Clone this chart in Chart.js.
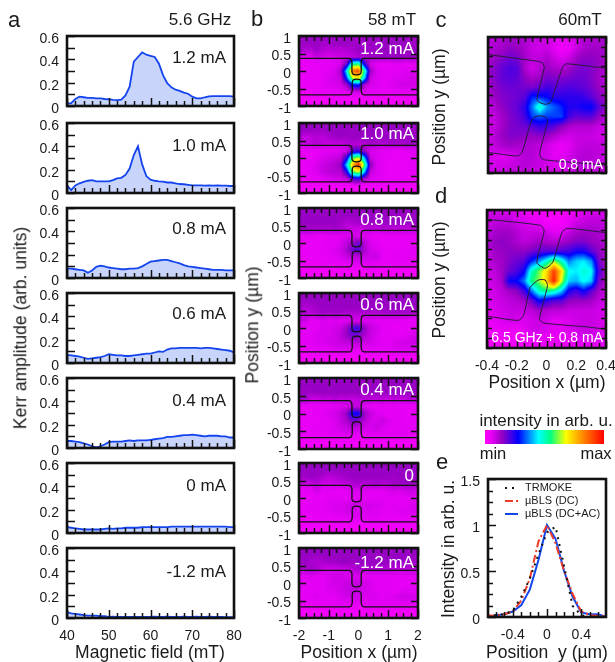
<!DOCTYPE html>
<html>
<head>
<meta charset="utf-8">
<title>Kerr amplitude and intensity maps</title>
<script src="https://cdn.jsdelivr.net/npm/chart.js@4"></script>
<style>
  html, body { margin: 0; padding: 0; background: #fff; overflow: hidden; }
  #fig { position: relative; width: 615px; height: 662px; overflow: hidden; font-family: "Liberation Sans", Arial, sans-serif; color: #1a1a1a; }
  #fig canvas { position: absolute; }
  .t { position: absolute; white-space: pre; line-height: 1; transform: translate(-50%, -50%); }
  .r { position: absolute; white-space: pre; line-height: 1; transform: translate(-100%, -50%); }
  .v { position: absolute; white-space: pre; line-height: 1; transform: translate(-50%, -50%) rotate(-90deg); }
</style>
</head>
<body>
<div id="fig"></div>
<script>
// panel a
const fieldMT = [40,41,42,43,44,45,46,47,48,49,50,51,52,53,54,55,56,57,58,59,60,61,62,63,64,65,66,67,68,69,70,71,72,73,74,75,76,77,78,79,80]
const kerr12 = [.02,.025,.06,.08,.075,.07,.07,.065,.065,.06,.058,.052,.05,.055,.09,.165,.38,.42,.46,.44,.43,.42,.365,.265,.195,.16,.14,.13,.115,.105,.08,.065,.065,.075,.083,.085,.085,.085,.085,.085,.08]
const kerr10 = [.065,.025,.065,.083,.095,.105,.11,.1,.1,.1,.1,.11,.125,.13,.155,.21,.325,.4,.245,.145,.115,.105,.1,.097,.09,.09,.083,.077,.075,.07,.065,.065,.065,.063,.065,.063,.065,.063,.063,.06,.06]
const kerr08 = [.08,.08,.075,.07,.065,.045,.065,.095,.105,.1,.09,.085,.08,.075,.075,.08,.08,.085,.1,.12,.14,.145,.15,.155,.155,.145,.135,.125,.11,.1,.095,.09,.085,.08,.075,.07,.07,.07,.065,.065,.065]
const kerr06 = [.07,.065,.06,.055,.045,.035,.04,.045,.05,.06,.075,.07,.065,.065,.06,.06,.065,.07,.075,.08,.08,.09,.1,.095,.115,.125,.125,.13,.13,.13,.13,.13,.125,.13,.13,.125,.12,.115,.11,.105,.09]
const kerr04 = [.06,.06,.055,.05,.04,.03,.015,.005,.015,.03,.05,.055,.055,.055,.06,.065,.06,.065,.065,.065,.07,.075,.08,.085,.095,.095,.1,.105,.11,.11,.115,.11,.105,.1,.105,.105,.105,.1,.1,.09,.09]
const kerr00 = [.05,.045,.04,.035,.03,.03,.03,.03,.03,.035,.04,.035,.04,.04,.045,.045,.045,.045,.05,.05,.05,.05,.05,.05,.05,.055,.055,.055,.055,.055,.055,.055,.055,.055,.055,.055,.055,.055,.055,.05,.05]
const kerrN12 = [.05,.04,.035,.03,.025,.02,.02,.02,.015,.015,.01,.012,.01,.01,.01,.01,.01,.01,.01,.01,.01,.012,.01,.01,.012,.01,.01,.01,.012,.01,.01,.012,.01,.01,.012,.01,.01,.01,.008,.008,.008]

// panel b maps, rows from y = 1 down to y = -1, columns x = -2 to 2
const mapBx = [-2,-1.8,-1.6,-1.4,-1.2,-1,-.8,-.6,-.4,-.2,0,.2,.4,.6,.8,1,1.2,1.4,1.6,1.8,2]
const mapBy = [1,.8,.6,.4,.2,0,-.2,-.4,-.6,-.8,-1]
const mapB12 = [
  [13,13,13,13,13,13,13,13,13,13,13,13,13,13,13,13,13,13,13,13,13],
  [13,14,14,14,13,13,14,14,14,13,13,13,14,13,14,14,14,14,14,13,13],
  [14,11,11,13,11,10,11,10,11,12,14,14,13,14,14,14,14,14,14,14,13],
  [6,5,6,9,8,7,8,9,9,10,11,12,13,13,14,13,14,14,13,14,12],
  [5,5,5,5,5,6,6,7,18,52,55,24,8,6,5,5,6,6,5,6,6],
  [5,5,5,5,6,6,7,12,44,85,90,52,14,7,6,6,6,6,7,7,7],
  [4,5,5,5,6,7,8,9,32,65,70,42,9,7,6,6,7,7,7,8,7],
  [4,4,5,5,6,7,7,8,12,28,30,11,7,7,6,6,7,8,8,8,7],
  [4,4,4,5,5,5,6,6,7,8,8,7,6,6,5,5,6,6,6,6,6],
  [3,3,3,3,3,3,4,3,3,3,3,3,3,3,4,3,3,3,4,3,3],
  [2,2,2,2,2,2,2,2,2,2,2,2,2,2,2,2,2,2,2,2,2]
]
const mapB10 = [
  [14,14,14,14,14,14,14,14,14,14,14,14,14,14,14,14,14,14,14,14,14],
  [14,14,14,13,13,14,14,14,14,13,14,14,14,14,13,14,14,14,14,13,13],
  [13,9,10,11,10,12,13,14,13,14,14,14,14,13,14,14,14,14,13,14,13],
  [9,9,10,11,10,9,10,9,11,11,10,11,13,12,11,12,13,12,13,13,12],
  [5,5,5,5,6,6,6,7,8,20,22,14,7,7,6,6,5,5,6,6,6],
  [5,5,5,6,7,8,9,10,24,58,65,40,9,7,6,5,5,5,5,6,6],
  [5,5,6,7,9,10,11,14,42,75,95,58,16,7,6,5,5,5,5,6,6],
  [4,5,6,7,9,10,11,11,24,58,65,40,9,7,6,5,5,5,5,5,5],
  [4,4,5,5,6,7,8,8,9,20,22,12,7,6,6,5,5,5,5,5,5],
  [3,3,3,3,3,3,3,3,3,3,4,3,3,3,3,3,3,3,3,3,3],
  [2,2,2,2,2,2,2,2,2,2,2,2,2,2,2,2,2,2,2,2,2]
]
const mapB08 = [
  [14,14,14,14,14,14,14,14,14,14,14,14,14,14,14,14,14,14,14,14,14],
  [14,14,14,14,14,14,14,14,14,14,14,14,14,14,14,14,14,14,14,14,14],
  [14,14,14,14,14,14,14,13,11,12,13,14,14,14,14,14,14,14,14,14,14],
  [12,13,13,12,13,12,13,12,10,9,8,9,10,9,11,10,10,10,9,9,10],
  [5,6,6,5,5,6,6,6,7,8,7,7,6,5,5,6,6,6,6,6,6],
  [5,5,5,5,5,6,6,7,10,14,18,11,7,6,5,5,5,5,5,6,5],
  [4,5,5,5,6,6,7,8,12,18,20,12,8,7,6,5,5,5,6,6,6],
  [4,5,5,5,5,6,6,7,9,10,10,9,8,9,6,5,6,6,6,6,6],
  [4,4,4,4,5,5,5,5,6,6,6,6,6,5,5,5,5,5,5,5,5],
  [3,3,3,3,3,3,3,3,3,3,3,3,3,3,3,3,3,3,3,3,3],
  [2,2,2,2,2,2,2,2,2,2,2,2,2,2,2,2,2,2,2,2,2]
]
const mapB06 = [
  [14,14,14,14,14,14,14,14,14,14,14,14,14,14,14,14,14,14,14,14,14],
  [14,14,14,14,14,14,14,14,14,14,14,14,14,14,14,14,14,14,14,14,14],
  [14,11,12,13,14,14,14,14,14,14,14,14,14,14,14,14,14,14,14,14,14],
  [13,11,10,12,13,12,13,12,12,11,11,11,11,11,12,12,12,12,12,11,10],
  [9,8,6,6,7,6,7,6,7,8,7,7,7,6,6,6,6,6,5,5,5],
  [6,6,6,6,7,7,8,9,13,22,22,14,9,8,6,6,5,5,5,6,6],
  [6,6,6,7,7,7,8,10,14,18,17,12,9,7,6,6,6,5,6,7,8],
  [5,6,6,7,7,8,8,9,10,11,11,9,8,7,6,6,7,8,8,8,9],
  [5,5,5,6,6,6,7,7,7,7,6,6,6,6,6,6,7,7,7,7,8],
  [3,3,3,3,3,3,3,3,3,3,3,3,3,3,3,3,3,3,3,3,3],
  [2,2,2,2,2,2,2,2,2,2,2,2,2,2,2,2,2,2,2,2,2]
]
const mapB04 = [
  [14,14,14,14,14,14,14,14,14,14,14,14,14,14,14,14,14,14,14,14,14],
  [14,14,14,14,14,14,14,14,14,14,14,14,14,14,14,14,14,14,14,14,14],
  [13,14,13,14,14,14,14,14,14,14,14,14,14,14,14,14,14,14,14,14,14],
  [12,13,9,8,10,9,11,9,10,9,10,11,10,10,10,9,10,9,10,11,10],
  [5,5,5,6,5,6,6,7,8,10,9,7,6,5,6,5,6,5,5,5,6],
  [5,5,5,5,6,7,8,10,14,28,26,14,9,7,6,5,6,6,5,5,5],
  [5,5,5,5,6,6,7,9,12,17,16,11,8,7,9,7,6,6,5,6,6],
  [5,5,5,6,6,6,7,8,9,10,9,8,7,9,7,6,6,6,6,6,6],
  [4,5,5,5,5,6,6,6,7,6,6,6,6,6,6,6,6,6,6,6,6],
  [3,3,3,3,3,3,3,3,3,3,3,3,3,3,3,3,3,3,3,3,3],
  [2,2,2,2,2,2,2,2,2,2,2,2,2,2,2,2,2,2,2,2,2]
]
const mapB00 = [
  [14,14,14,14,14,14,14,14,14,14,14,14,14,14,14,14,14,14,14,14,14],
  [14,14,14,14,14,14,14,14,14,14,14,14,14,14,14,14,14,14,14,14,14],
  [14,13,14,13,12,10,11,12,13,14,14,14,14,14,14,14,13,14,14,13,14],
  [9,8,9,11,8,8,9,9,10,11,12,11,11,12,11,11,13,13,14,13,13],
  [5,5,5,8,6,6,5,5,6,7,7,7,6,6,6,7,8,7,8,9,7],
  [5,5,5,5,5,6,6,6,6,6,6,6,6,6,6,6,6,6,6,6,6],
  [5,5,6,6,6,7,7,7,8,9,8,8,8,7,7,6,7,6,6,7,7],
  [5,5,5,6,6,6,7,7,8,8,7,7,7,7,6,6,6,7,7,7,7],
  [4,4,4,5,5,5,5,5,6,6,6,6,6,6,6,5,5,5,5,5,5],
  [3,3,3,3,3,3,3,3,3,3,3,3,3,3,3,3,3,3,3,3,3],
  [2,2,2,2,2,2,2,2,2,2,2,2,2,2,2,2,2,2,2,2,2]
]
const mapBN12 = [
  [14,14,14,14,14,14,14,14,14,14,14,14,14,14,14,14,14,14,14,14,14],
  [14,14,14,14,14,14,14,14,14,14,14,14,14,14,14,14,14,14,14,14,14],
  [13,14,12,11,12,13,13,14,14,13,14,14,14,14,14,14,14,14,13,13,12],
  [12,12,13,12,9,8,8,9,9,11,12,12,12,11,12,11,11,10,11,11,10],
  [6,6,7,6,6,7,8,8,7,7,7,6,6,6,6,6,6,6,6,6,6],
  [6,6,6,6,6,7,8,8,9,9,9,8,7,6,6,6,6,5,5,6,6],
  [6,6,6,6,6,7,7,8,9,10,9,8,7,6,6,6,5,6,7,6,6],
  [5,6,6,7,6,6,6,7,8,8,8,7,7,7,6,7,7,8,8,8,7],
  [5,5,5,5,5,6,6,6,6,6,6,6,6,6,6,6,6,6,6,6,6],
  [3,3,3,3,3,3,3,3,3,3,3,3,3,3,3,3,3,3,3,3,3],
  [2,2,2,2,2,2,2,2,2,2,2,2,2,2,2,2,2,2,2,2,2]
]

// device outline in panel b
const edgeBtopX = [-2,-.32,-.25,-.22,-.22,-.18,-.07,.05,.09,.09,.12,.19,2]
const edgeBtopY = [.36,.36,.33,.25,-.02,-.09,-.11,-.09,-.02,.25,.33,.36,.36]
const edgeBlowX = [-2,-.3,-.24,-.21,-.21,-.17,-.06,.05,.09,.09,.12,.19,2]
const edgeBlowY = [-.68,-.68,-.65,-.55,-.32,-.25,-.23,-.25,-.32,-.55,-.65,-.68,-.68]

// panels c and d, rows from y = 0.7 down to y = -0.7, columns x = -0.4 to 0.4
const mapCx = [-.4,-.35,-.3,-.25,-.2,-.15,-.1,-.05,0,.05,.1,.15,.2,.25,.3,.35,.4]
const mapCy = [.7,.6,.5,.4,.3,.2,.1,0,-.1,-.2,-.3,-.4,-.5,-.6,-.7]
const mapC = [
  [10,11,12,13,13,12,10,9,9,7,5,6,9,11,12,12,12],
  [11,12,13,15,14,12,9,8,9,6,3,5,9,12,13,13,12],
  [12,14,16,18,17,13,10,10,12,9,7,9,13,15,15,14,12],
  [14,16,19,21,20,12,8,11,14,12,11,13,16,17,16,14,11],
  [14,16,19,20,19,15,12,14,17,16,16,17,18,18,16,13,10],
  [13,15,17,18,18,17,17,19,22,20,20,21,20,19,17,14,11],
  [12,14,16,17,18,20,30,30,28,24,24,24,24,23,20,16,13],
  [10,12,15,17,19,24,36,50,38,34,30,25,25,27,28,20,15],
  [9,10,13,16,18,22,32,34,32,32,32,22,19,20,20,15,11],
  [8,10,13,16,17,18,20,23,22,20,15,12,11,11,11,9,8],
  [9,11,14,16,16,15,14,15,14,11,9,8,9,9,9,8,8],
  [9,10,12,13,12,12,11,10,8,6,5,6,9,10,10,10,9],
  [7,7,6,7,9,11,11,9,8,6,6,8,10,11,11,10,9],
  [8,8,8,9,10,11,10,9,8,7,8,9,10,11,10,10,9],
  [8,9,9,10,10,10,10,9,9,8,8,8,9,9,9,9,9]
]
const mapD = [
  [8,9,8,8,7,6,4,4,3,2,2,4,6,7,8,8,8],
  [9,10,10,10,8,7,6,5,3,2,2,5,8,9,10,10,9],
  [10,12,13,13,11,9,9,9,8,6,6,9,12,13,13,12,10],
  [11,14,15,14,12,10,11,13,12,11,12,14,16,16,14,13,11],
  [10,13,14,15,15,15,17,19,20,20,21,22,26,26,20,15,11],
  [9,12,13,16,18,20,30,38,48,62,50,36,42,44,38,18,11],
  [9,10,13,18,21,27,50,60,72,92,72,46,44,48,46,22,12],
  [8,9,12,27,28,36,55,62,74,96,66,42,40,46,42,18,11],
  [8,8,10,13,15,22,36,50,55,52,42,26,22,28,20,13,9],
  [7,8,9,10,11,13,18,28,24,20,20,15,14,14,13,10,8],
  [6,7,8,9,9,9,10,13,11,10,10,9,9,9,9,8,7],
  [5,6,7,8,8,7,8,9,8,6,6,7,8,9,9,8,7],
  [4,4,5,5,4,6,8,8,7,6,6,7,8,9,9,8,7],
  [3,3,3,3,3,3,4,5,5,5,5,5,6,7,7,7,6],
  [3,3,3,3,3,3,3,4,4,4,4,4,5,5,5,5,5]
]
const edgeCtopX = [-.399,-.056,-.029,-.018,-.068,-.056,-.011,.023,.034,.101,.113,.135,.401]
const edgeCtopY = [.539,.468,.45,.41,.085,.051,.027,.044,.085,.392,.427,.444,.399]
const edgeClowX = [-.399,-.203,-.169,-.113,-.09,-.056,-.011,.005,-.05,-.038,-.011,.4]
const edgeClowY = [-.468,-.505,-.468,-.171,-.109,-.092,-.102,-.137,-.478,-.529,-.546,-.6]
const edgeDtopX = [-.388,-.04,-.016,-.065,-.009,.042,.103,.136,.4]
const edgeDtopY = [.624,.564,.507,.188,.128,.188,.49,.534,.49]
const edgeDlowX = [-.388,-.19,-.154,-.109,-.054,-.009,.007,-.047,-.02,.27,.4]
const edgeDlowY = [-.359,-.4,-.349,-.064,.01,.01,-.047,-.383,-.426,-.466,-.49]

// panel e
const posY = [-.7,-.6,-.5,-.4,-.3,-.2,-.1,0,.1,.2,.3,.4,.5,.6,.7]
const trmoke = [0,.02,.03,.07,.22,.42,.68,.92,.98,.55,.12,.02,0,0,0]
const blsDC = [.02,.01,.03,.06,.18,.42,.82,1,.8,.5,.25,.06,.02,.01,.01]
const blsDCAC = [0,.02,.03,.06,.13,.3,.62,1,.85,.5,.22,.05,.03,.03,0]

// colour bar and colour scale
const barLevels = [0,10,20,30,40,50,60,70,80,90,100]
const cmapAt = [0,6,14,28,45,55,68,83,100]
const cmapRGB = [[255,0,255],[228,0,245],[152,0,195],[0,0,255],[0,255,255],[0,255,130],[255,255,0],[255,130,0],[255,0,0]]

const ink = '#111'
const fig = document.getElementById('fig')

function text (cls, str, x, y, size, color) {
  const d = document.createElement('div')
  d.className = cls
  d.textContent = str
  d.style.left = x + 'px'
  d.style.top = y + 'px'
  d.style.fontSize = size + 'px'
  if (color) d.style.color = color
  fig.appendChild(d)
}

function colour (v) {
  let i = 0
  while (i < cmapAt.length - 2 && v > cmapAt[i + 1]) i++
  const f = Math.min(1, Math.max(0, (v - cmapAt[i]) / (cmapAt[i + 1] - cmapAt[i])))
  return cmapRGB[i].map((c, k) => c + (cmapRGB[i + 1][k] - c) * f)
}

// paints a grid of levels into the chart area, sampled through the scales
function heatPlugin (grid, xs, ys) {
  return {
    id: 'heat',
    beforeDatasetsDraw (chart) {
      const { ctx, chartArea: a, scales } = chart
      const w = Math.round(a.right - a.left)
      const h = Math.round(a.bottom - a.top)
      const off = document.createElement('canvas')
      off.width = w
      off.height = h
      const octx = off.getContext('2d')
      const img = octx.createImageData(w, h)
      const nx = xs.length - 1
      const ny = ys.length - 1
      for (let py = 0; py < h; py++) {
        const vy = scales.y.getValueForPixel(a.top + py + 0.5)
        const fy = Math.min(ny, Math.max(0, (vy - ys[0]) / (ys[ny] - ys[0]) * ny))
        const r0 = Math.min(ny - 1, Math.floor(fy))
        const ty = fy - r0
        for (let px = 0; px < w; px++) {
          const vx = scales.x.getValueForPixel(a.left + px + 0.5)
          const fx = Math.min(nx, Math.max(0, (vx - xs[0]) / (xs[nx] - xs[0]) * nx))
          const c0 = Math.min(nx - 1, Math.floor(fx))
          const tx = fx - c0
          const v = (grid[r0][c0] * (1 - tx) + grid[r0][c0 + 1] * tx) * (1 - ty) +
            (grid[r0 + 1][c0] * (1 - tx) + grid[r0 + 1][c0 + 1] * tx) * ty
          const rgb = colour(v)
          const o = (py * w + px) * 4
          img.data[o] = rgb[0]
          img.data[o + 1] = rgb[1]
          img.data[o + 2] = rgb[2]
          img.data[o + 3] = 255
        }
      }
      octx.putImageData(img, 0, 0)
      ctx.drawImage(off, a.left, a.top)
    }
  }
}

// frame and inward tick marks
function framePlugin (cfg) {
  const isMajor = (v, m) => Math.abs(v / m - Math.round(v / m)) < 1e-6
  return {
    id: 'frame',
    afterDatasetsDraw (chart) {
      const { ctx, chartArea: a, scales } = chart
      ctx.save()
      ctx.strokeStyle = ink
      ctx.lineWidth = 1.5
      ctx.beginPath()
      scales.x.ticks.forEach(t => {
        const p = Math.round(scales.x.getPixelForValue(t.value)) + 0.5
        const len = isMajor(t.value, cfg.xMajor) ? cfg.xLong : cfg.xShort
        ctx.moveTo(p, a.bottom)
        ctx.lineTo(p, a.bottom - len)
        if (cfg.both) {
          ctx.moveTo(p, a.top)
          ctx.lineTo(p, a.top + len)
        }
      })
      scales.y.ticks.forEach(t => {
        const p = Math.round(scales.y.getPixelForValue(t.value)) + 0.5
        const len = isMajor(t.value, cfg.yMajor) ? cfg.yLong : cfg.yShort
        ctx.moveTo(a.left, p)
        ctx.lineTo(a.left + len, p)
        if (cfg.both) {
          ctx.moveTo(a.right, p)
          ctx.lineTo(a.right - len, p)
        }
      })
      ctx.stroke()
      ctx.lineWidth = 2.6
      ctx.strokeRect(a.left, a.top, a.right - a.left, a.bottom - a.top)
      ctx.restore()
    }
  }
}

// key inside panel e, read from the datasets
const keyPlugin = {
  id: 'key',
  afterDatasetsDraw (chart) {
    const { ctx } = chart
    const rows = [9, 22, 35]
    ctx.save()
    chart.data.datasets.forEach((ds, i) => {
      const y = chart.chartArea.top + rows[i]
      ctx.strokeStyle = ds.borderColor
      ctx.lineWidth = ds.borderWidth
      ctx.setLineDash(ds.borderDash || [])
      ctx.beginPath()
      ctx.moveTo(chart.chartArea.left + 17, y)
      ctx.lineTo(chart.chartArea.left + 30, y)
      ctx.stroke()
      ctx.fillStyle = '#1a1a1a'
      ctx.font = '11px "Liberation Sans", Arial, sans-serif'
      ctx.textBaseline = 'middle'
      ctx.fillText(ds.label, chart.chartArea.left + 37, y)
    })
    ctx.restore()
  }
}

function axisLabel (major, v) {
  if (Math.abs(v / major - Math.round(v / major)) > 1e-6) return ''
  return String(Number(v.toFixed(3)))
}

function panel (box, opt) {
  const left = 62
  const top = 14
  const right = 14
  const bottom = opt.xLabels ? 34 : 14
  const cv = document.createElement('canvas')
  const w = box.r - box.l + left + right
  const h = box.b - box.t + top + bottom
  cv.style.left = (box.l - left) + 'px'
  cv.style.top = (box.t - top) + 'px'
  cv.style.width = w + 'px'
  cv.style.height = h + 'px'
  cv.width = w
  cv.height = h
  fig.appendChild(cv)
  const font = { family: '"Liberation Sans", Arial, sans-serif', size: 14 }
  return new Chart(cv, {
    type: 'scatter',
    data: { datasets: opt.datasets },
    plugins: opt.plugins,
    options: {
      responsive: false,
      animation: false,
      events: [],
      layout: { padding: { top, right, left: 0, bottom: 0 } },
      plugins: { legend: { display: false }, tooltip: { enabled: false } },
      scales: {
        x: {
          type: 'linear',
          min: opt.xMin,
          max: opt.xMax,
          grid: { display: false, drawTicks: false },
          border: { display: false },
          afterFit (s) { s.height = bottom; s.paddingLeft = 0; s.paddingRight = 0 },
          ticks: {
            display: !!opt.xLabels,
            stepSize: opt.xStep,
            includeBounds: false,
            autoSkip: false,
            maxRotation: 0,
            minRotation: 0,
            padding: 10,
            color: '#1a1a1a',
            font,
            callback: v => axisLabel(opt.xLabels || opt.xStep, v)
          }
        },
        y: {
          type: 'linear',
          min: opt.yMin,
          max: opt.yMax,
          grid: { display: false, drawTicks: false },
          border: { display: false },
          afterFit (s) { s.width = left; s.paddingTop = 0; s.paddingBottom = 0 },
          ticks: {
            stepSize: opt.yStep,
            includeBounds: false,
            autoSkip: false,
            padding: 8,
            labelOffset: 3,
            color: '#1a1a1a',
            font,
            callback: v => axisLabel(opt.yLabels, v)
          }
        }
      }
    }
  })
}

function edgeSet (xs, ys, dark) {
  return {
    data: xs.map((x, i) => ({ x, y: ys[i] })),
    showLine: true,
    pointRadius: 0,
    borderColor: dark ? '#111' : '#2a1a40',
    borderWidth: dark ? 1.3 : 1,
    tension: 0.2
  }
}

// panel a
const kerrPanels = [
  [kerr12, 36, 106, '1.2 mA', 57],
  [kerr10, 123, 193, '1.0 mA', 145],
  [kerr08, 208, 278, '0.8 mA', 228],
  [kerr06, 293, 363, '0.6 mA', 313],
  [kerr04, 378, 448, '0.4 mA', 400],
  [kerr00, 463, 533, '0 mA', 485],
  [kerrN12, 548, 618, '-1.2 mA', 571]
]
kerrPanels.forEach(([series, t, b, name, ny], i) => {
  panel({ l: 67, r: 234, t, b }, {
    xMin: 40,
    xMax: 80,
    xStep: 2,
    yMin: 0,
    yMax: 0.6,
    yStep: 0.1,
    yLabels: 0.2,
    xLabels: i === kerrPanels.length - 1 ? 10 : 0,
    datasets: [{
      data: series.map((v, k) => ({ x: fieldMT[k], y: v })),
      showLine: true,
      pointRadius: 0,
      borderColor: '#1444ee',
      borderWidth: 1.8,
      fill: 'origin',
      backgroundColor: '#c8d4fa'
    }],
    plugins: [framePlugin({ xMajor: 10, xLong: 8, xShort: 5, yMajor: 0.2, yLong: 8, yShort: 8, both: false })]
  })
  text('r', name, 226, ny, 17)
})

// panel b
const mapPanels = [
  [mapB12, 36, 106, '1.2 mA', 48],
  [mapB10, 123, 193, '1.0 mA', 133],
  [mapB08, 208, 278, '0.8 mA', 219],
  [mapB06, 293, 363, '0.6 mA', 304],
  [mapB04, 378, 449, '0.4 mA', 389],
  [mapB00, 463, 533, '0', 475],
  [mapBN12, 548, 618, '-1.2 mA', 562]
]
mapPanels.forEach(([grid, t, b, name, ny], i) => {
  panel({ l: 299, r: 418, t, b }, {
    xMin: -2,
    xMax: 2,
    xStep: 0.25,
    yMin: -1,
    yMax: 1,
    yStep: 0.5,
    yLabels: 0.5,
    xLabels: i === mapPanels.length - 1 ? 1 : 0,
    datasets: [edgeSet(edgeBtopX, edgeBtopY, true), edgeSet(edgeBlowX, edgeBlowY, true)],
    plugins: [heatPlugin(grid, mapBx, mapBy), framePlugin({ xMajor: 1, xLong: 8, xShort: 5, yMajor: 0.5, yLong: 7, yShort: 7, both: true })]
  })
})

// panels c and d
const nanoFrame = { xMajor: 0.2, xLong: 7, xShort: 5, yMajor: 0.2, yLong: 7, yShort: 5, both: true }
panel({ l: 488, r: 606, t: 37, b: 173 }, {
  xMin: -0.4,
  xMax: 0.4,
  xStep: 0.05,
  yMin: -0.68,
  yMax: 0.72,
  yStep: 0.1,
  yLabels: 0.2,
  xLabels: 0,
  datasets: [edgeSet(edgeCtopX, edgeCtopY), edgeSet(edgeClowX, edgeClowY)],
  plugins: [heatPlugin(mapC, mapCx, mapCy), framePlugin(nanoFrame)]
})
panel({ l: 487, r: 606, t: 210, b: 348 }, {
  xMin: -0.4,
  xMax: 0.4,
  xStep: 0.05,
  yMin: -0.68,
  yMax: 0.72,
  yStep: 0.1,
  yLabels: 0.2,
  xLabels: 0.2,
  datasets: [edgeSet(edgeDtopX, edgeDtopY), edgeSet(edgeDlowX, edgeDlowY)],
  plugins: [heatPlugin(mapD, mapCx, mapCy), framePlugin(nanoFrame)]
})

// colour bar
const barCanvas = document.createElement('canvas')
barCanvas.width = 119
barCanvas.height = 14
barCanvas.style.left = '485px'
barCanvas.style.top = '430px'
fig.appendChild(barCanvas)
new Chart(barCanvas, {
  type: 'scatter',
  data: { datasets: [] },
  plugins: [heatPlugin([barLevels, barLevels], barLevels, [1, 0])],
  options: {
    responsive: false,
    animation: false,
    events: [],
    layout: { padding: 0 },
    plugins: { legend: { display: false }, tooltip: { enabled: false } },
    scales: {
      x: { type: 'linear', min: 0, max: 100, display: false },
      y: { type: 'linear', min: 0, max: 1, display: false }
    }
  }
})

// panel e
panel({ l: 488, r: 606, t: 479, b: 617 }, {
  xMin: -0.69,
  xMax: 0.69,
  xStep: 0.1,
  yMin: 0,
  yMax: 1.5,
  yStep: 0.125,
  yLabels: 0.5,
  xLabels: 0.4,
  datasets: [
    { label: 'TRMOKE', data: posY.map((x, i) => ({ x, y: trmoke[i] })), showLine: true, pointRadius: 0, borderColor: '#111', borderWidth: 2, borderDash: [2, 5] },
    { label: 'µBLS (DC)', data: posY.map((x, i) => ({ x, y: blsDC[i] })), showLine: true, pointRadius: 0, borderColor: '#ee3a28', borderWidth: 2, borderDash: [8, 3, 2, 3] },
    { label: 'µBLS (DC+AC)', data: posY.map((x, i) => ({ x, y: blsDCAC[i] })), showLine: true, pointRadius: 0, borderColor: '#1248ee', borderWidth: 2 }
  ],
  plugins: [framePlugin({ xMajor: 0.4, xLong: 8, xShort: 5, yMajor: 0.5, yLong: 8, yShort: 5, both: false }), keyPlugin]
})

// panel b labels go on top of the maps
mapPanels.forEach(([, , , name, ny]) => text('r', name, 414, ny, 17, '#fff'))
text('r', '0.8 mA', 603, 164, 14, '#fff')
text('r', '6.5 GHz + 0.8 mA', 603, 337, 14, '#fff')

text('t', 'a', 14, 20, 22)
text('t', 'b', 257, 19, 22)
text('t', 'c', 441, 20, 22)
text('t', 'd', 441, 196, 22)
text('t', 'e', 442, 462, 22)
text('t', '5.6 GHz', 200, 19, 17)
text('t', '58 mT', 392, 19, 17)
text('t', '60mT', 580, 19, 17)
text('t', 'Magnetic field (mT)', 150, 653, 17.5)
text('t', 'Position x (µm)', 359, 653, 17.5)
text('t', 'Position x (µm)', 547, 383, 17.5)
text('t', 'Position\u00a0\u00a0y (µm)', 547, 653, 17.5)
text('v', 'Kerr amplitude (arb. units)', 21, 328, 17.5)
text('v', 'Position y (µm)', 253, 325, 17.5)
text('v', 'Position y (µm)', 440, 107, 17.5)
text('v', 'Position y (µm)', 440, 280, 17.5)
text('v', 'Intensity in arb. u.', 449, 549, 17.5)
text('t', 'intensity in arb. u.', 546, 420, 17)
text('t', 'min', 493, 453, 16.5)
text('t', 'max', 596, 453, 16.5)
</script>
</body>
</html>
